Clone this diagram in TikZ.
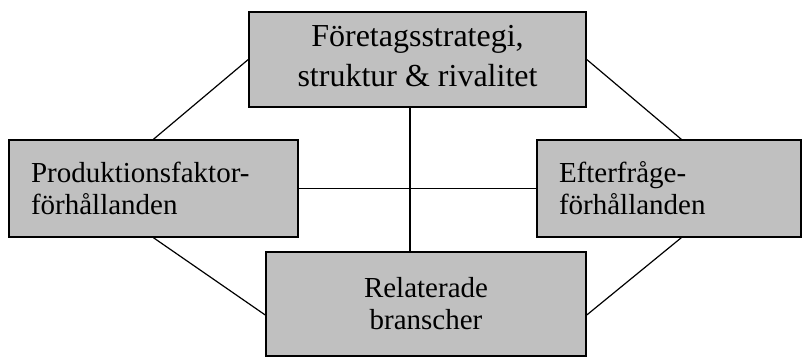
\documentclass[tikz,border=0pt]{standalone}
\usepackage{fontspec}
\setmainfont{Liberation Serif}
\definecolor{boxgray}{RGB}{192,192,192}
\begin{document}
\begin{tikzpicture}[x=1pt,y=-1pt,
  box/.style={draw=black, line width=1.5pt, fill=boxgray, rectangle, inner sep=0pt,
    font=\fontsize{29}{32}\selectfont},
  link/.style={line width=1.2pt}]
\useasboundingbox (0,0) rectangle (803,358);
\node[box, minimum width=337pt, minimum height=95pt, align=center,
  font=\fontsize{32}{37}\selectfont] (top) at (417.5,59.5)
  {\raisebox{-3pt}{\begin{tabular}{@{}c@{}}Företagsstrategi,\\[3pt]struktur \& rivalitet\end{tabular}}};
\node[box, minimum width=289pt, minimum height=97pt, text width=245pt, align=left] (left) at (153.5,188.5)
  {Produktionsfaktor-\\förhållanden};
\node[box, minimum width=264pt, minimum height=97pt, text width=220pt, align=left] (right) at (669,188.5)
  {Efterfråge-\\förhållanden};
\node[box, minimum width=320pt, minimum height=104pt, align=center] (bottom) at (426,304)
  {Relaterade\\branscher};
\path (right.north west) ++(145,0) coordinate (rn);
\path (right.south west) ++(145,0) coordinate (rs);
\path (bottom.west) ++(0,11) coordinate (bw);
\path (bottom.east) ++(0,11) coordinate (be);
\path (top.south) ++(-7.5,0) coordinate (ts);
\coordinate (bn) at (bottom.north -| ts);
\draw[link] (top.west) -- (left.north);
\draw[link] (top.east) -- (rn);
\draw[link] (left.south) -- (bw);
\draw[link] (rs) -- (be);
\draw[link] (left.east) -- (right.west);
\draw[link] (ts) -- (bn);
\end{tikzpicture}
\end{document}
